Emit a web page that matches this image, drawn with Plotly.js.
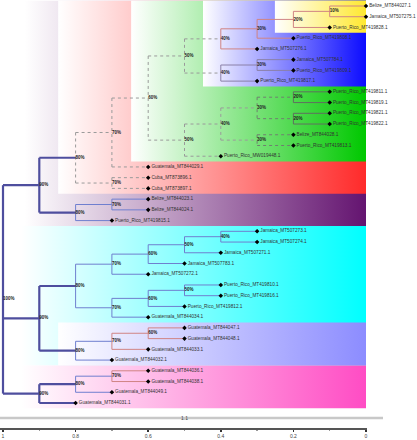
<!DOCTYPE html>
<html><head><meta charset="utf-8">
<script src="https://cdn.plot.ly/plotly-3.0.1.min.js"></script>
<style>html,body{margin:0;padding:0;background:#fff}</style>
</head><body><div id="chart" style="width:417px;height:440px"></div>
<script>
// ---- data ----
const leafNames = [
  'Belize_MT844027.1','Jamaica_MT507275.1','Puerto_Rico_MT419828.1','Puerto_Rico_MT419808.1',
  'Jamaica_MT507276.1','Jamaica_MT507784.1','Puerto_Rico_MT419809.1','Puerto_Rico_MT419817.1',
  'Puerto_Rico_MT419811.1','Puerto_Rico_MT419819.1','Puerto_Rico_MT419821.1','Puerto_Rico_MT419822.1',
  'Belize_MT844028.1','Puerto_Rico_MT419813.1','Puerto_Rico_MW019448.1','Guatemala_MT844029.1',
  'Cuba_MT873896.1','Cuba_MT873897.1','Belize_MT844023.1','Belize_MT844024.1',
  'Puerto_Rico_MT419815.1','Jamaica_MT507273.1','Jamaica_MT507274.1','Jamaica_MT507271.1',
  'Jamaica_MT507783.1','Jamaica_MT507272.1','Puerto_Rico_MT419810.1','Puerto_Rico_MT419816.1',
  'Puerto_Rico_MT419812.1','Guatemala_MT844034.1','Guatemala_MT844047.1','Guatemala_MT844048.1',
  'Guatemala_MT844033.1','Guatemala_MT844032.1','Guatemala_MT844036.1','Guatemala_MT844038.1',
  'Guatemala_MT844049.1','Guatemala_MT844031.1'
];
const leafDist = [
  0,0,0.1,0.2,0.3,0.2,0.2,0.3,0.1,0.1,0.1,0.1,0.2,0.2,0.4,0.6,0.6,0.6,0.6,0.6,
  0.7,0.3,0.3,0.4,0.5,0.6,0.4,0.4,0.5,0.6,0.5,0.5,0.6,0.7,0.6,0.6,0.7,0.8
];
const nodeLabels = [
  '10%','20%','30%','40%','30%','40%','50%','20%','20%','30%','30%','40%','50%','60%',
  '70%','70%','80%','70%','80%','90%','40%','50%','60%','70%','50%','60%','70%','80%',
  '60%','70%','80%','90%','70%','80%','90%','100%'
];
const nodeDist = [
  0.1,0.2,0.3,0.4,0.3,0.4,0.5,0.2,0.2,0.3,0.3,0.4,0.5,0.6,
  0.7,0.7,0.8,0.7,0.8,0.9,0.4,0.5,0.6,0.7,0.5,0.6,0.7,0.8,
  0.6,0.7,0.8,0.9,0.7,0.8,0.9,1.0
];
const nodeChildren = [
  ['L0','L1'],['N0','L2'],['N1','L3'],['N2','L4'],['L5','L6'],['N4','L7'],['N3','N5'],
  ['L8','L9'],['L10','L11'],['N7','N8'],['L12','L13'],['N9','N10'],['N11','L14'],['N6','N12'],
  ['N13','L15'],['L16','L17'],['N14','N15'],['L18','L19'],['N17','L20'],['N16','N18'],
  ['L21','L22'],['N20','L23'],['N21','L24'],['N22','L25'],['L26','L27'],['N24','L28'],['N25','L29'],['N23','N26'],
  ['L30','L31'],['N28','L32'],['N29','L33'],['N27','N30'],
  ['L34','L35'],['N32','L36'],['N33','L37'],
  ['N19','N31','N34']
];
const xTickVals = [1,0.8,0.6,0.4,0.2,0];
const xTickText = ['1','0.8','0.6','0.4','0.2','0'];
const scaleLabel = '1.1';

// ---- clade backgrounds (leaf range, left edge on axis) ----
const clades = [
  {first:0, last:20, left:0.94, color:'#641470'},
  {first:0, last:17, left:0.848, color:'#ff2a2a'},
  {first:0, last:14, left:0.647, color:'#00c800'},
  {first:0, last:7, left:0.449, color:'#0c0cff'},
  {first:0, last:2, left:0.251, color:'#ffe830'},
  {first:21, last:33, left:0.95, color:'#00ffff'},
  {first:30, last:33, left:0.848, color:'#8c8cff'},
  {first:34, last:37, left:0.95, color:'#ff4cc4'}
];

// ---- branch styles by node ----
const STY = {
  thick:{color:'#4e4e9e', width:2.2, dash:'solid'},
  blue:{color:'#6f7fcf', width:1, dash:'solid'},
  red:{color:'#d08484', width:1, dash:'solid'},
  gray:{color:'#9a9a9a', width:1, dash:'dot'},
  green:{color:'#5f705f', width:1, dash:'solid'},
  greenDot:{color:'#6f806f', width:1, dash:'dot'},
  purple:{color:'#8a80a8', width:1, dash:'solid'}
};
const nodeStyle = ['red','red','red','red','purple','purple','gray','green','green','greenDot','greenDot','gray','gray','gray',
  'gray','gray','gray','blue','blue','thick','blue','blue','blue','blue','blue','blue','blue','blue',
  'red','red','blue','thick','red','blue','thick','thick'];

const Y_TOP = -0.559, Y_BOT = 39.33;
const nodeY = [];
function refY(r){ return r[0]==='L' ? +r.slice(1) : nodeY[+r.slice(1)]; }
function refX(r){ return r[0]==='L' ? leafDist[+r.slice(1)] : nodeDist[+r.slice(1)]; }
nodeChildren.forEach((ch,i)=>{ nodeY[i] = ch.map(refY).reduce((a,b)=>a+b,0)/ch.length; });

const traces = [];
clades.forEach(c=>{
  const y0 = Math.max(Y_TOP, c.first-0.5), y1 = c.last+0.5;
  traces.push({type:'scatter', mode:'lines', x:[c.left,0,0,c.left,c.left], y:[y0,y0,y1,y1,y0],
    fill:'toself', line:{width:0, color:'rgba(0,0,0,0)'}, hoverinfo:'skip', showlegend:false,
    fillgradient:{type:'horizontal', colorscale:[[0,'#ffffff'],[1,c.color]], start:c.left, stop:0}});
});

const groups = {};
nodeChildren.forEach((ch,i)=>{
  const s = nodeStyle[i];
  if(!groups[s]) groups[s] = {x:[], y:[]};
  const g = groups[s], nx = nodeDist[i];
  const ys = ch.map(refY);
  g.x.push(nx, nx, null); g.y.push(Math.min(...ys), Math.max(...ys), null);
  ch.forEach(r=>{ g.x.push(nx, refX(r), null); g.y.push(refY(r), refY(r), null); });
});
Object.keys(groups).sort((a,b)=>(a==='thick')-(b==='thick')).forEach(k=>{
  traces.push({type:'scatter', mode:'lines', x:groups[k].x, y:groups[k].y, hoverinfo:'skip', showlegend:false,
    line:{color:STY[k].color, width:STY[k].width, dash:STY[k].dash}});
});

traces.push({type:'scatter', mode:'markers+text', x:leafDist, y:leafNames.map((_,i)=>i), text:leafNames,
  textposition:'middle right', cliponaxis:false, hoverinfo:'skip', showlegend:false,
  marker:{symbol:'diamond', size:3.5, color:'#000'},
  textfont:{family:'Liberation Sans, Arial, sans-serif', size:4.7, color:'#333'}});

traces.push({type:'scatter', mode:'text', x:nodeDist, y:nodeY, text:nodeLabels.map(t=>'<b>'+t+'</b>'),
  textposition:'middle right', cliponaxis:false, hoverinfo:'skip', showlegend:false,
  marker:{size:4},
  textfont:{family:'Liberation Sans, Arial, sans-serif', size:4.5, color:'#222'}});

const layout = {
  width:417, height:440, margin:{l:0, r:50, t:0, b:12},
  paper_bgcolor:'#fff', plot_bgcolor:'#fff', showlegend:false,
  xaxis:{range:[1.00826,-0.00275], showgrid:false, zeroline:false, showline:true, linecolor:'#555', linewidth:1.5,
    tickvals:xTickVals, ticktext:xTickText, ticks:'outside', ticklen:2, tickwidth:1.5, tickcolor:'#333',
    tickfont:{family:'Liberation Sans, Arial, sans-serif', size:5, color:'#444'},
    minor:{tickvals:[0.9,0.7,0.5,0.3,0.1], ticks:'outside', ticklen:1.5, tickcolor:'#999'}},
  yaxis:{range:[Y_BOT, Y_TOP], visible:false},
  shapes:[{type:'line', xref:'paper', yref:'paper', x0:0, x1:383/367, y0:1-418/428, y1:1-418/428,
    line:{color:'#c8c8c8', width:2.5}}],
  annotations:[{xref:'paper', yref:'paper', x:184/367, y:1-423/428, text:scaleLabel, showarrow:false,
    font:{family:'Liberation Sans, Arial, sans-serif', size:5, color:'#444'}}]
};
Plotly.newPlot('chart', traces, layout, {displayModeBar:false, staticPlot:true});
</script></body></html>
